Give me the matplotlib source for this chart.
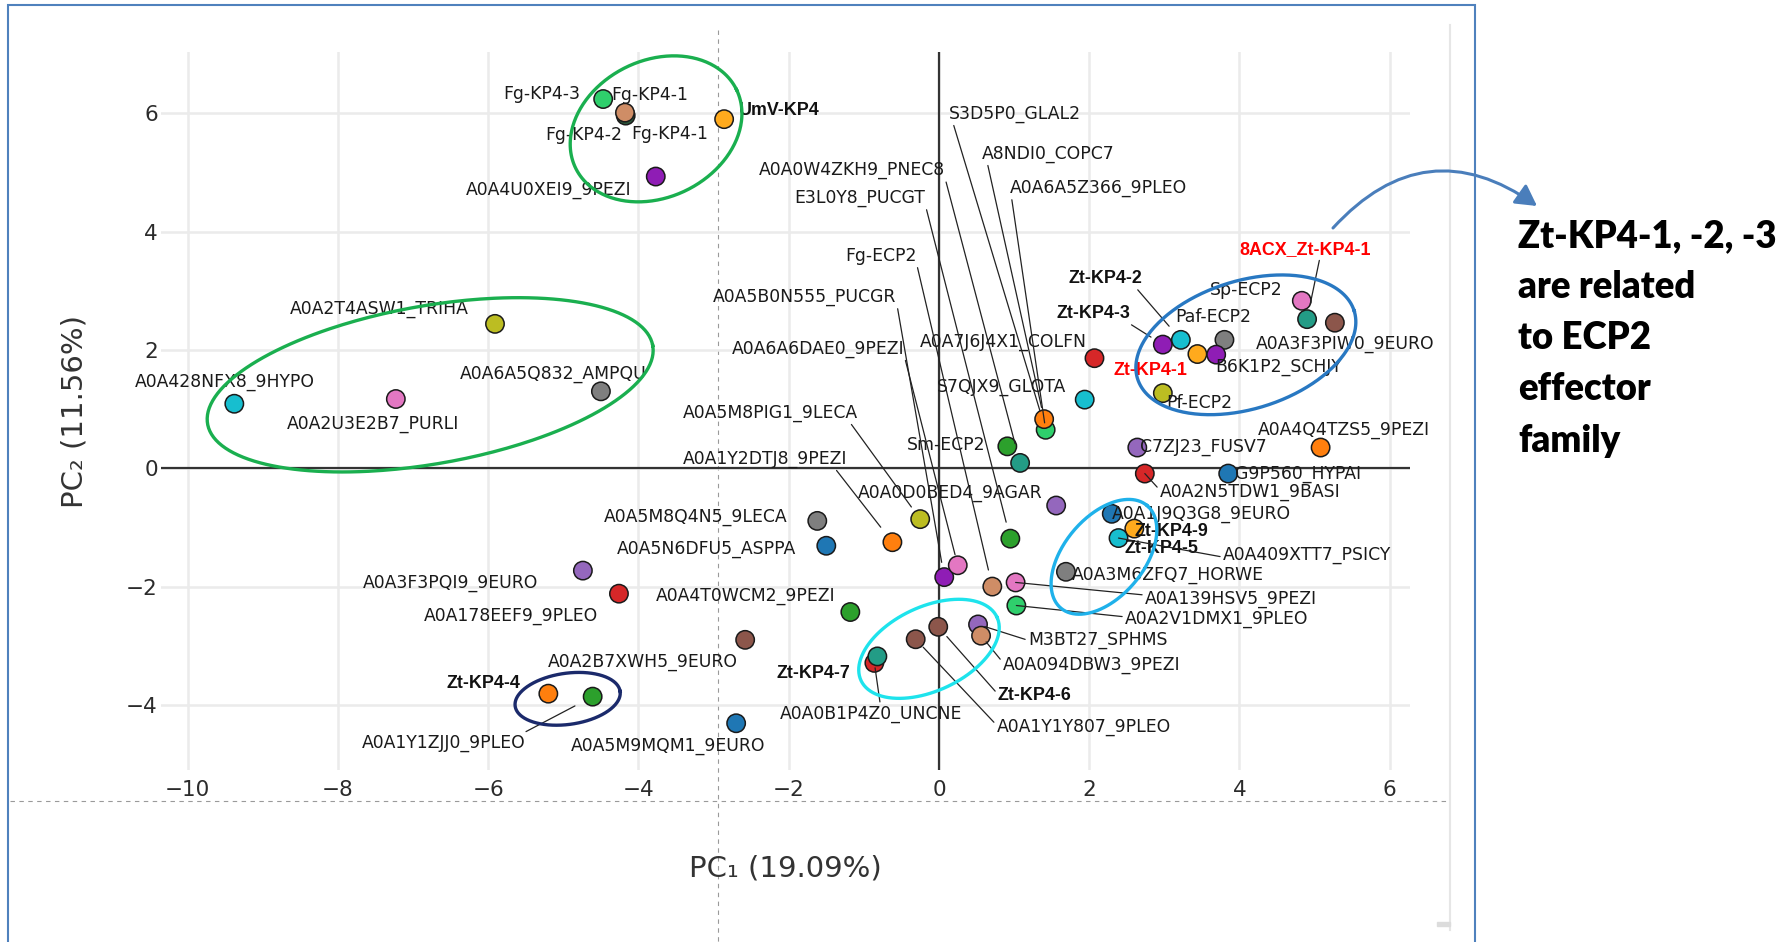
import numpy as np
import matplotlib.pyplot as plt
from matplotlib.patches import FancyArrowPatch, Rectangle
from matplotlib.lines import Line2D

W, H = 1792, 942   # canvas size in px

# PCA scores (PC1, PC2) of KP4 / ECP2 family proteins
names = ["Fg-KP4-2", "Fg-KP4-3", "Fg-KP4-1", "UmV-KP4", "A0A4U0XEI9_9PEZI",
         "A0A2T4ASW1_TRIHA", "A0A428NFX8_9HYPO", "A0A2U3E2B7_PURLI", "A0A6A5Q832_AMPQU",
         "A0A5M8Q4N5_9LECA", "A0A5N6DFU5_ASPPA", "A0A3F3PQI9_9EURO", "A0A178EEF9_9PLEO",
         "A0A4T0WCM2_9PEZI", "A0A2B7XWH5_9EURO", "Zt-KP4-4", "A0A1Y1ZJJ0_9PLEO",
         "A0A5M9MQM1_9EURO", "A0A0B1P4Z0_UNCNE", "Zt-KP4-7", "A0A1Y1Y807_9PLEO",
         "Zt-KP4-6", "M3BT27_SPHMS", "A0A094DBW3_9PEZI", "A0A5B0N555_PUCGR",
         "A0A6A6DAE0_9PEZI", "Fg-ECP2", "A0A139HSV5_9PEZI", "A0A2V1DMX1_9PLEO",
         "E3L0Y8_PUCGT", "A0A0D0BED4_9AGAR", "A0A3M6ZFQ7_HORWE", "A0A1J9Q3G8_9EURO",
         "Zt-KP4-9", "Zt-KP4-5", "A0A2N5TDW1_9BASI", "C7ZJ23_FUSV7", "G9P560_HYPAI",
         "A0A4Q4TZS5_9PEZI", "Sm-ECP2", "A0A0W4ZKH9_PNEC8", "A0A6A5Z366_9PLEO",
         "A8NDI0_COPC7", "S7QJX9_GLOTA", "A0A7J6J4X1_COLFN", "Zt-KP4-2", "Zt-KP4-3",
         "Zt-KP4-1", "Paf-ECP2", "B6K1P2_SCHJY", "Pf-ECP2", "Sp-ECP2", "8ACX_Zt-KP4-1",
         "A0A3F3PIW0_9EURO", "A0A5M8PIG1_9LECA", "A0A1Y2DTJ8_9PEZI"]
pc1 = [-4.17, -4.47, -4.18, -2.86, -3.77,
       -5.91, -9.38, -7.23, -4.50,
       -1.62, -1.50, -4.74, -4.26,
       -1.18, -2.58, -5.20, -4.61,
       -2.70, -0.86, -0.82, -0.31,
       -0.01, 0.52, 0.56, 0.07,
       0.25, 0.71, 1.02, 1.03,
       0.95, 1.56, 1.69, 2.30,
       2.60, 2.39, 2.74, 2.64, 3.85,
       5.08, 0.91, 1.08, 1.42,
       1.40, 1.94, 2.07, 3.22, 2.98,
       3.44, 3.80, 3.69, 2.98, 4.83, 4.90,
       5.27, -0.25, -0.62]
pc2 = [5.96, 6.24, 6.01, 5.90, 4.93,
       2.44, 1.09, 1.17, 1.30,
       -0.89, -1.31, -1.73, -2.12,
       -2.43, -2.90, -3.81, -3.86,
       -4.31, -3.29, -3.18, -2.89,
       -2.68, -2.64, -2.83, -1.84,
       -1.64, -2.00, -1.93, -2.32,
       -1.19, -0.63, -1.75, -0.77,
       -1.02, -1.18, -0.09, 0.35, -0.09,
       0.35, 0.37, 0.09, 0.65,
       0.83, 1.16, 1.86, 2.17, 2.09,
       1.93, 2.17, 1.92, 1.27, 2.83, 2.52,
       2.46, -0.86, -1.25]
group = ["dkgreen", "lgreen", "tan", "gold", "violet",
         "olive", "cyan", "pink", "gray",
         "gray", "blue", "lav", "red",
         "green", "brown", "orange", "green",
         "blue", "red", "teal", "brown",
         "brown", "lav", "tan", "violet",
         "pink", "tan", "pink", "lgreen",
         "green", "lav", "gray", "blue",
         "gold", "cyan", "red", "lav", "blue",
         "orange", "green", "teal", "lgreen",
         "orange", "cyan", "red", "cyan", "violet",
         "gold", "gray", "violet", "olive", "pink", "teal",
         "brown", "olive", "orange"]

colour = {"blue": "#1f77b4", "orange": "#ff7f0e", "gold": "#ffaa1d", "green": "#2ca02c",
          "lgreen": "#2fcf6c", "red": "#d62728", "lav": "#9467bd", "violet": "#8f1db5",
          "brown": "#8c564b", "tan": "#cf8d66", "pink": "#e377c2", "gray": "#7f7f7f",
          "olive": "#bcbd22", "cyan": "#17becf", "teal": "#239c86", "dkgreen": "#2b5a3c"}

xticks = [-10, -8, -6, -4, -2, 0, 2, 4, 6]
yticks = [-4, -2, 0, 2, 4, 6]

# label placement: text, point, text position, alignment, style,
# where the leader leaves the text box (None = no leader), gap to the point in px
labels = [
    ("Fg-KP4-3", "Fg-KP4-3", -4.777, 6.366, "right", "n", None, 0),
    ("Fg-KP4-1", "Fg-KP4-1", -4.365, 6.344, "left", "n", None, 0),
    ("Fg-KP4-2", "Fg-KP4-2", -5.243, 5.673, "left", "n", None, 0),
    ("Fg-KP4-1", "Fg-KP4-2", -4.099, 5.690, "left", "n", None, 0),
    ("UmV-KP4", "UmV-KP4", -2.661, 6.086, "left", "b", None, 0),
    ("A0A4U0XEI9_9PEZI", "A0A4U0XEI9_9PEZI", -6.294, 4.734, "left", "n", None, 0),
    ("A0A2T4ASW1_TRIHA", "A0A2T4ASW1_TRIHA", -8.636, 2.723, "left", "n", None, 0),
    ("A0A428NFX8_9HYPO", "A0A428NFX8_9HYPO", -10.709, 1.494, "left", "n", None, 0),
    ("A0A2U3E2B7_PURLI", "A0A2U3E2B7_PURLI", -8.676, 0.789, "left", "n", None, 0),
    ("A0A6A5Q832_AMPQU", "A0A6A5Q832_AMPQU", -6.374, 1.624, "left", "n", None, 0),
    ("A0A5M8Q4N5_9LECA", "A0A5M8Q4N5_9LECA", -4.458, -0.788, "left", "n", None, 0),
    ("A0A5N6DFU5_ASPPA", "A0A5N6DFU5_ASPPA", -4.285, -1.328, "left", "n", None, 0),
    ("A0A3F3PQI9_9EURO", "A0A3F3PQI9_9EURO", -7.665, -1.898, "left", "n", None, 0),
    ("A0A178EEF9_9PLEO", "A0A178EEF9_9PLEO", -6.853, -2.461, "left", "n", None, 0),
    ("A0A4T0WCM2_9PEZI", "A0A4T0WCM2_9PEZI", -3.771, -2.123, "left", "n", None, 0),
    ("A0A2B7XWH5_9EURO", "A0A2B7XWH5_9EURO", -5.203, -3.245, "left", "n", None, 0),
    ("Zt-KP4-4", "Zt-KP4-4", -6.560, -3.607, "left", "b", None, 0),
    ("A0A5M9MQM1_9EURO", "A0A5M9MQM1_9EURO", -4.896, -4.658, "left", "n", None, 0),
    ("Zt-KP4-7", "Zt-KP4-7", -1.184, -3.436, "right", "b", None, 0),
    ("A0A0D0BED4_9AGAR", "A0A0D0BED4_9AGAR", -1.078, -0.389, "left", "n", None, 0),
    ("Sm-ECP2", "Sm-ECP2", -0.431, 0.419, "left", "n", None, 0),
    ("S7QJX9_GLOTA", "S7QJX9_GLOTA", -0.027, 1.403, "left", "n", None, 0),
    ("A0A7J6J4X1_COLFN", "A0A7J6J4X1_COLFN", -0.248, 2.170, "left", "n", None, 0),
    ("A0A3M6ZFQ7_HORWE", "A0A3M6ZFQ7_HORWE", 1.766, -1.773, "left", "n", None, 0),
    ("A0A1J9Q3G8_9EURO", "A0A1J9Q3G8_9EURO", 2.298, -0.732, "left", "n", None, 0),
    ("Zt-KP4-9", "Zt-KP4-9", 2.608, -1.041, "left", "b", None, 0),
    ("Zt-KP4-5", "Zt-KP4-5", 2.475, -1.323, "left", "b", None, 0),
    ("C7ZJ23_FUSV7", "C7ZJ23_FUSV7", 2.672, 0.395, "left", "n", None, 0),
    ("G9P560_HYPAI", "G9P560_HYPAI", 3.939, -0.061, "left", "n", None, 0),
    ("A0A4Q4TZS5_9PEZI", "A0A4Q4TZS5_9PEZI", 4.241, 0.678, "left", "n", None, 0),
    ("Zt-KP4-1", "Zt-KP4-1", 2.329, 1.692, "left", "r", None, 0),
    ("Sp-ECP2", "Sp-ECP2", 3.606, 3.044, "left", "n", None, 0),
    ("Paf-ECP2", "Paf-ECP2", 3.147, 2.593, "left", "n", None, 0),
    ("A0A3F3PIW0_9EURO", "A0A3F3PIW0_9EURO", 4.218, 2.141, "left", "n", None, 0),
    ("B6K1P2_SCHJY", "B6K1P2_SCHJY", 3.673, 1.748, "left", "n", None, 0),
    ("Pf-ECP2", "Pf-ECP2", 3.031, 1.144, "left", "n", None, 0),
    ("A0A0W4ZKH9_PNEC8", "A0A0W4ZKH9_PNEC8", -2.399, 5.072, "left", "n", (1.0, 0.1), 20),
    ("E3L0Y8_PUCGT", "E3L0Y8_PUCGT", -1.929, 4.604, "left", "n", (1.0, 0.2), 17),
    ("S3D5P0_GLAL2", "A0A6A5Z366_9PLEO", 0.133, 6.028, "left", "n", (0.03, 0.0), 20),
    ("A8NDI0_COPC7", "A8NDI0_COPC7", 0.572, 5.352, "left", "n", (0.04, 0.0), 12),
    ("A0A6A5Z366_9PLEO", "A0A6A5Z366_9PLEO", 0.941, 4.773, "left", "n", (0.01, 0.0), 7),
    ("Fg-ECP2", "Fg-ECP2", -1.246, 3.623, "left", "n", (1.0, 0.0), 17),
    ("A0A5B0N555_PUCGR", "A0A5B0N555_PUCGR", -3.010, 2.931, "left", "n", (1.0, 0.3), 15),
    ("A0A6A6DAE0_9PEZI", "A0A6A6DAE0_9PEZI", -2.760, 2.057, "left", "n", (1.0, 0.1), 11),
    ("A0A5M8PIG1_9LECA", "A0A5M8PIG1_9LECA", -3.407, 0.975, "left", "n", (0.95, 0.0), 15),
    ("A0A1Y2DTJ8_9PEZI", "A0A1Y2DTJ8_9PEZI", -3.407, 0.198, "left", "n", (0.92, 0.0), 19),
    ("A0A1Y1ZJJ0_9PLEO", "A0A1Y1ZJJ0_9PLEO", -7.682, -4.614, "left", "n", (0.97, 1.0), 20),
    ("A0A0B1P4Z0_UNCNE", "A0A0B1P4Z0_UNCNE", -2.116, -4.112, "left", "n", (0.55, 1.0), 5),
    ("A0A1Y1Y807_9PLEO", "A0A1Y1Y807_9PLEO", 0.768, -4.337, "left", "n", (0.0, 0.6), 11),
    ("Zt-KP4-6", "Zt-KP4-6", 0.785, -3.801, "left", "b", (0.0, 0.55), 13),
    ("A0A094DBW3_9PEZI", "A0A094DBW3_9PEZI", 0.852, -3.294, "left", "n", (0.0, 0.65), 8),
    ("M3BT27_SPHMS", "M3BT27_SPHMS", 1.184, -2.871, "left", "n", (0.0, 0.5), 7),
    ("A0A2V1DMX1_9PLEO", "A0A2V1DMX1_9PLEO", 2.475, -2.506, "left", "n", (0.0, 0.6), 0),
    ("A0A139HSV5_9PEZI", "A0A139HSV5_9PEZI", 2.741, -2.168, "left", "n", (0.0, 0.7), 0),
    ("A0A409XTT7_PSICY", "Zt-KP4-5", 3.779, -1.435, "left", "n", (0.0, 0.4), 0),
    ("A0A2N5TDW1_9BASI", "A0A2N5TDW1_9BASI", 2.941, -0.365, "left", "n", (0.0, 0.6), 0),
    ("Zt-KP4-2", "Zt-KP4-2", 1.729, 3.240, "left", "b", (0.9, 0.0), 18),
    ("Zt-KP4-3", "Zt-KP4-3", 1.570, 2.648, "left", "b", (0.95, 0.0), 14),
    ("8ACX_Zt-KP4-1", "8ACX_Zt-KP4-1", 4.003, 3.737, "left", "r", (0.61, 0.0), 16),
]

# groups circled on the score plot: centre (data), semi-axes (px), tilt (deg), colour
rings = [(-3.766, 5.736, 89.5, 68.5, 26, "#1aaf4f"),
         (-6.773, 1.410, 226, 79, 10, "#1aaf4f"),
         (4.085, 2.086, 113.5, 64, 17.4, "#2878c2"),
         (2.196, -1.497, 67, 40, 50, "#1fb1ea"),
         (-0.133, -3.052, 75, 42, 25, "#1ee3ec"),
         (-4.943, -3.897, 53, 25.6, 8, "#1b2a6b")]

note = ["Zt-KP4-1, -2, -3", "are related", "to ECP2", "effector", "family"]

fig = plt.figure(figsize=(W / 100, H / 100), dpi=100)
ax = fig.add_axes([160.7 / W, 1 - 770 / H, (1410 - 160.7) / W, (770 - 51.7) / H])
ax.patch.set_visible(False)
ax.set_xlim(-10.36, 6.27)
ax.set_ylim(-5.10, 7.04)
for s in ax.spines.values():
    s.set_visible(False)
ax.set_xticks(xticks)
ax.set_yticks(yticks)
ax.set_axisbelow(True)
ax.grid(color="#ebebeb", lw=1.8)
ax.tick_params(length=0, labelsize=15.5, labelcolor="#2b2b2b")
ax.tick_params(axis="x", pad=7)
ax.tick_params(axis="y", pad=2)
ax.axhline(0, color="#333333", lw=1.6, zorder=1)
ax.axvline(0, color="#333333", lw=1.6, zorder=1)

ax.scatter(pc1, pc2, s=175, c=[colour[g] for g in group],
           edgecolors="#1a1a1a", linewidths=1.1, zorder=3)

pos = {n: (x, y) for n, x, y in zip(names, pc1, pc2)}
for text, ref, lx, ly, ha, style, relpos, gap in labels:
    kw = dict(ha=ha, va="center_baseline", zorder=4, annotation_clip=False)
    if style == "n":
        kw.update(fontsize=12.4, family="DejaVu Sans", color="#1a1a1a")
    else:
        kw.update(fontsize=12.9, family="Liberation Sans", fontweight="bold",
                  color="#ff0000" if style == "r" else "#111111")
    if relpos is not None:
        kw["arrowprops"] = dict(arrowstyle="-", color="#222222", lw=0.9,
                                shrinkA=0, shrinkB=gap * 0.72, relpos=relpos)
    ax.annotate(text, xy=pos[ref], xytext=(lx, ly), textcoords="data", **kw)

# ellipses drawn in pixel space around the circled groups
p0 = ax.transData.transform((0, 0))
sx = ax.transData.transform((1, 0))[0] - p0[0]
sy = ax.transData.transform((0, 1))[1] - p0[1]
t = np.linspace(0, 2 * np.pi, 300)
for cx, cy, a, b, ang, col in rings:
    th = np.deg2rad(ang)
    u = a * np.cos(t) * np.cos(th) - b * np.sin(t) * np.sin(th)
    v = a * np.cos(t) * np.sin(th) + b * np.sin(t) * np.cos(th)
    ax.plot(cx + u / sx, cy + v / sy, color=col, lw=2.4, clip_on=False, zorder=6)

fig.text(785 / W, 1 - 869 / H, "PC\u2081 (19.09%)", ha="center", va="center",
         fontsize=21, color="#333333")
fig.text(75 / W, 1 - 411 / H, "PC\u2082 (11.56%)", ha="center", va="center",
         rotation=90, fontsize=21, color="#333333")

# page furniture: guide lines, frame, arrow and note
fig.add_artist(Line2D([717.7 / W] * 2, [1 - 30 / H, 0], transform=fig.transFigure,
                      color="#9a9a9a", lw=0.8, ls=(0, (4, 4)), zorder=-1))
fig.add_artist(Line2D([10 / W, 1450 / W], [1 - 801 / H] * 2, transform=fig.transFigure,
                      color="#9a9a9a", lw=0.8, ls=(0, (4, 4)), zorder=-1))
fig.add_artist(Line2D([1450 / W] * 2, [1 - 25 / H, 1 - 930 / H], transform=fig.transFigure,
                      color="#e6e6e6", lw=1.5, zorder=-1))
fig.add_artist(Rectangle((1437 / W, 1 - 926 / H), 13 / W, 4 / H, transform=fig.transFigure,
                         color="#dcdcdc", zorder=-1))
fig.add_artist(Rectangle((8 / W, -0.05), (1475 - 8) / W, 1.05 - 5 / H,
                         transform=fig.transFigure, fill=False, ec="#4f81bd", lw=1.5))
fig.add_artist(FancyArrowPatch((1333 / W, 1 - 228 / H), (1537 / W, 1 - 206 / H),
                               transform=fig.transFigure, connectionstyle="arc3,rad=-0.44",
                               arrowstyle="-|>,head_length=0.9,head_width=0.5",
                               shrinkA=0, shrinkB=0,
                               mutation_scale=14, color="#4a7ebb", lw=2.2))
for i, line in enumerate(note):
    fig.text(1518 / W, 1 - (246.7 + 51.25 * i) / H, line, fontsize=26.3,
             fontweight="heavy", family="Lato", va="baseline", color="#000000")

fig.savefig("out.png", dpi=100)
